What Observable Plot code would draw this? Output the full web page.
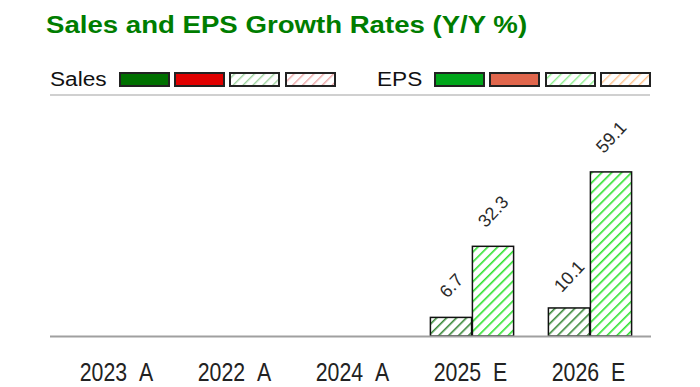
<!DOCTYPE html>
<html>
<head>
<meta charset="utf-8">
<script src="https://cdn.jsdelivr.net/npm/d3@7"></script>
<script src="https://cdn.jsdelivr.net/npm/@observablehq/plot@0.6"></script>
<style>
  html, body { margin: 0; padding: 0; background: #fff; }
  #wrap { position: relative; width: 700px; height: 387px; overflow: hidden; font-family: "Liberation Sans", Arial, sans-serif; }
  #title { position: absolute; left: 46px; top: 14px; font-size: 23px; line-height: 23px; font-weight: bold; color: #007d00; white-space: nowrap; transform: scaleX(1.2); transform-origin: 0 0; }
  .lgtext { position: absolute; top: 68px; font-size: 19.5px; line-height: 22px; color: #111; transform: scaleX(1.16); transform-origin: 0 0; white-space: nowrap; }
  #legend { position: absolute; left: 0; top: 60px; }
  #chart { position: absolute; left: 0; top: 100px; }
</style>
</head>
<body>
<div id="wrap">
  <svg width="0" height="0" style="position:absolute">
    <defs id="defs"></defs>
  </svg>
  <div id="title">Sales and EPS Growth Rates (Y/Y %)</div>
  <div class="lgtext" style="left:50px">Sales</div>
  <div class="lgtext" style="left:377px">EPS</div>
  <svg id="legend" width="700" height="40"></svg>
  <div id="chart"></div>
</div>
<script>
const categories = ["2023 A", "2022 A", "2024 A", "2025 E", "2026 E"];
const salesGrowth = [null, null, null, 6.7, 10.1];
const epsGrowth = [null, null, null, 32.3, 59.1];

// legend entries: [fill type, colour]
const salesLegend = [["solid", "#007000"], ["solid", "#e00000"], ["hatch", "#9fd49f"], ["hatch", "#eca4a4"]];
const epsLegend = [["solid", "#00a61a"], ["solid", "#e0664c"], ["hatch", "#8cf08c"], ["hatch", "#ffc38e"]];

// patterns
const defs = d3.select("#defs");
function hatch(id, color, w) {
  const p = defs.append("pattern").attr("id", id).attr("patternUnits", "userSpaceOnUse")
    .attr("width", 7).attr("height", 7).attr("patternTransform", "rotate(45)");
  p.append("rect").attr("width", 7).attr("height", 7).attr("fill", "#fff");
  p.append("rect").attr("x", 0).attr("y", 0).attr("width", w).attr("height", 7).attr("fill", color);
}
hatch("hSalesE", "#3a8a3a", 1.6);
hatch("hEpsE", "#2ee22e", 1.6);
salesLegend.concat(epsLegend).forEach(([t, c], i) => { if (t === "hatch") hatch("lg" + i, c, 1.4); });

// legend swatches
const lg = d3.select("#legend");
const salesX = [119, 174, 229, 285];
const epsX = [434, 489, 545, 600];
salesLegend.forEach(([t, c], i) => {
  lg.append("rect").attr("x", salesX[i] + 1).attr("y", 13).attr("width", 49).attr("height", 13)
    .attr("fill", t === "solid" ? c : `url(#lg${i})`).attr("stroke", "#222").attr("stroke-width", 2);
});
epsLegend.forEach(([t, c], i) => {
  lg.append("rect").attr("x", epsX[i] + 1).attr("y", 13).attr("width", 49).attr("height", 13)
    .attr("fill", t === "solid" ? c : `url(#lg${i + 4})`).attr("stroke", "#222").attr("stroke-width", 2);
});
lg.append("line").attr("x1", 50).attr("x2", 650).attr("y1", 35).attr("y2", 35).attr("stroke", "#d0d0d0").attr("stroke-width", 2);

const table = categories.map((c, i) => ({cat: c, sales: salesGrowth[i], eps: epsGrowth[i]}));

const step = 118.8;
const chart = Plot.plot({
  width: 700,
  height: 287,
  marginLeft: 57,
  marginRight: 49,
  marginTop: 0,
  marginBottom: 51,
  style: {fontFamily: "Liberation Sans, Arial, sans-serif", background: "transparent"},
  x: {domain: categories, padding: 0, label: null},
  y: {domain: [0, 85], axis: null},
  marks: [
    Plot.barY(table, {x: "cat", y: "sales", fill: "url(#hSalesE)", stroke: "#111", strokeWidth: 1.5, insetLeft: 17.4, insetRight: step - 59.4}),
    Plot.barY(table, {x: "cat", y: "eps", fill: "url(#hEpsE)", stroke: "#111", strokeWidth: 1.5, insetLeft: 59.4, insetRight: 17.4}),
    Plot.ruleY([0], {stroke: "#a0a0a0", strokeWidth: 2, insetLeft: -7}),
    Plot.text(table, {x: "cat", y: "sales", text: d => d.sales == null ? null : d.sales.toFixed(1), dx: -21, dy: -32, rotate: -47, fontSize: 18, fill: "#2a2a2a"}),
    Plot.text(table, {x: "cat", y: "eps", text: d => d.eps == null ? null : d.eps.toFixed(1), dx: 21, dy: -35, rotate: -47, fontSize: 18, fill: "#2a2a2a"}),
    Plot.axisX({tickSize: 0, tickPadding: 26, fontSize: 26, fill: "#222", label: null, dx: -2,
      tickFormat: d => d.replace(" ", "\u00a0\u00a0")})
  ]
});
// narrow the tick-label glyphs horizontally (reference uses a condensed face)
d3.select(chart).selectAll("g[aria-label='x-axis tick label'] text").each(function() {
  const t = this.getAttribute("transform") || "";
  this.setAttribute("transform", t + " scale(0.82,1)");
});
document.getElementById("chart").appendChild(chart);
</script>
</body>
</html>
